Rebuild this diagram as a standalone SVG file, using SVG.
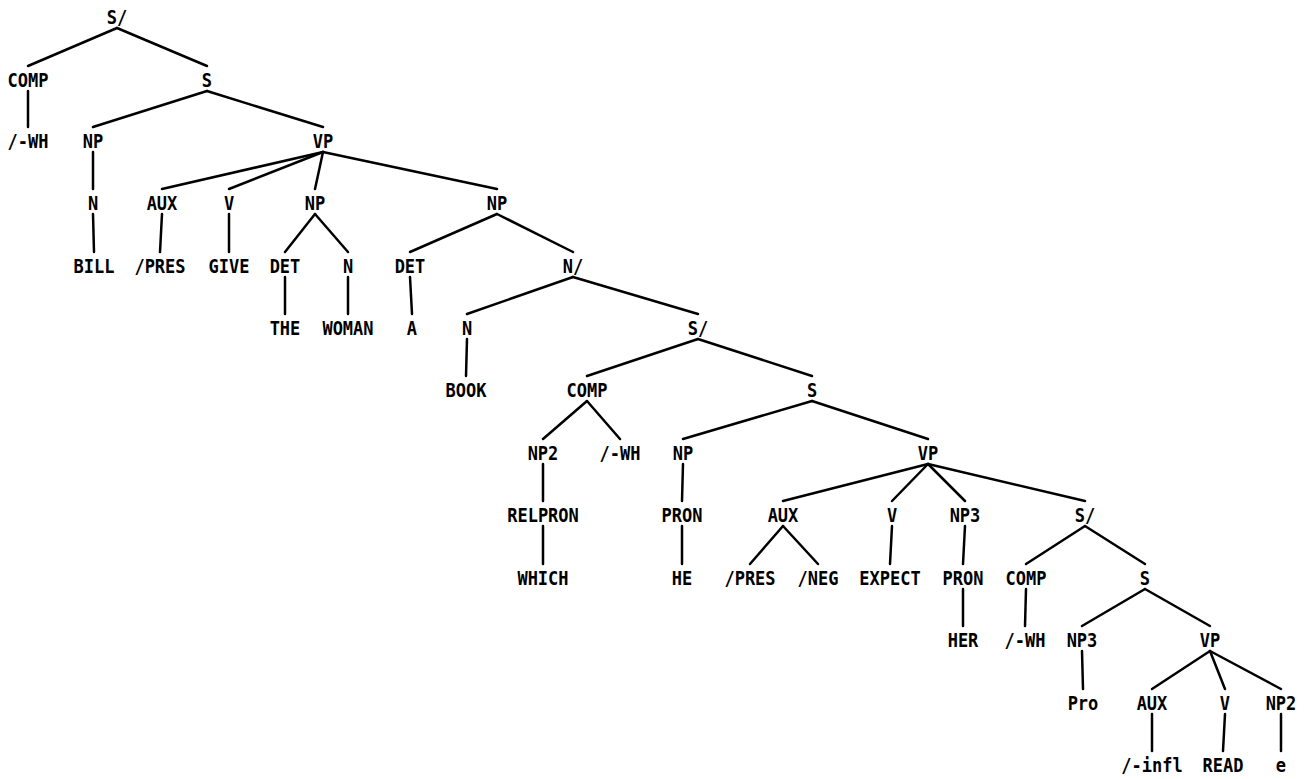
<svg xmlns="http://www.w3.org/2000/svg" width="1307" height="779" viewBox="0 0 1307 779">
<style>
text{font-family:"DejaVu Sans Mono","Liberation Mono",monospace;font-weight:bold;font-size:17px;text-anchor:middle;fill:#000;transform-box:fill-box;transform-origin:center;transform:scaleY(1.13)}
.e line{stroke:#000;stroke-width:2.5;stroke-linecap:round}
</style>
<rect width="1307" height="779" fill="#fff"/>
<g id="connectors" class="e">
<line x1="117" y1="28" x2="28" y2="66"/><line x1="117" y1="28" x2="207" y2="66"/>
<line x1="28" y1="91" x2="28" y2="127"/>
<line x1="207" y1="91" x2="93" y2="127"/><line x1="207" y1="91" x2="323" y2="127"/>
<line x1="93" y1="152" x2="93" y2="189"/>
<line x1="323" y1="152" x2="162" y2="189"/><line x1="323" y1="152" x2="229" y2="189"/><line x1="323" y1="152" x2="315" y2="189"/><line x1="323" y1="152" x2="497" y2="189"/>
<line x1="93" y1="214" x2="94" y2="252"/>
<line x1="162" y1="214" x2="160" y2="252"/>
<line x1="229" y1="214" x2="229" y2="252"/>
<line x1="315" y1="214" x2="285" y2="252"/><line x1="315" y1="214" x2="348" y2="252"/>
<line x1="497" y1="214" x2="410" y2="252"/><line x1="497" y1="214" x2="573" y2="252"/>
<line x1="285" y1="277" x2="285" y2="314"/><line x1="348" y1="277" x2="348" y2="314"/><line x1="410" y1="277" x2="412" y2="314"/>
<line x1="573" y1="277" x2="467" y2="314"/><line x1="573" y1="277" x2="698" y2="314"/>
<line x1="467" y1="339" x2="466" y2="376"/>
<line x1="698" y1="339" x2="587" y2="376"/><line x1="698" y1="339" x2="812" y2="376"/>
<line x1="587" y1="401" x2="543" y2="439"/><line x1="587" y1="401" x2="620" y2="439"/>
<line x1="812" y1="401" x2="683" y2="439"/><line x1="812" y1="401" x2="928" y2="439"/>
<line x1="543" y1="464" x2="543" y2="501"/><line x1="543" y1="526" x2="543" y2="564"/>
<line x1="683" y1="464" x2="682" y2="501"/><line x1="682" y1="526" x2="682" y2="564"/>
<line x1="928" y1="464" x2="783" y2="501"/><line x1="928" y1="464" x2="892" y2="501"/><line x1="928" y1="464" x2="965" y2="501"/><line x1="928" y1="464" x2="1085" y2="501"/>
<line x1="783" y1="526" x2="750" y2="564"/><line x1="783" y1="526" x2="818" y2="564"/>
<line x1="892" y1="526" x2="890" y2="564"/>
<line x1="965" y1="526" x2="963" y2="564"/><line x1="963" y1="589" x2="963" y2="626"/>
<line x1="1085" y1="526" x2="1026" y2="564"/><line x1="1085" y1="526" x2="1145" y2="564"/>
<line x1="1026" y1="589" x2="1025" y2="626"/>
<line x1="1145" y1="589" x2="1082" y2="626"/><line x1="1145" y1="589" x2="1210" y2="626"/>
<line x1="1082" y1="651" x2="1083" y2="689"/>
<line x1="1210" y1="651" x2="1152" y2="689"/><line x1="1210" y1="651" x2="1225" y2="689"/><line x1="1210" y1="651" x2="1281" y2="689"/>
<line x1="1152" y1="714" x2="1152" y2="751"/><line x1="1225" y1="714" x2="1223" y2="751"/><line x1="1281" y1="714" x2="1281" y2="751"/>
</g>
<g id="n_sbar1"><text x="117" y="23">S/</text></g>
<g id="n_comp1"><text x="28" y="86">COMP</text></g>
<g id="n_s1"><text x="207" y="86">S</text></g>
<g id="n_wh1"><text x="28" y="147">/-WH</text></g>
<g id="n_np1"><text x="93" y="147">NP</text></g>
<g id="n_vp1"><text x="323" y="147">VP</text></g>
<g id="n_n1"><text x="93" y="209">N</text></g>
<g id="n_aux1"><text x="162" y="209">AUX</text></g>
<g id="n_v1"><text x="229" y="209">V</text></g>
<g id="n_np2"><text x="315" y="209">NP</text></g>
<g id="n_np3"><text x="497" y="209">NP</text></g>
<g id="n_bill"><text x="94" y="272">BILL</text></g>
<g id="n_pres1"><text x="160" y="272">/PRES</text></g>
<g id="n_give"><text x="229" y="272">GIVE</text></g>
<g id="n_det1"><text x="285" y="272">DET</text></g>
<g id="n_n2"><text x="348" y="272">N</text></g>
<g id="n_det2"><text x="410" y="272">DET</text></g>
<g id="n_nbar"><text x="573" y="272">N/</text></g>
<g id="n_the"><text x="285" y="334">THE</text></g>
<g id="n_woman"><text x="348" y="334">WOMAN</text></g>
<g id="n_a"><text x="412" y="334">A</text></g>
<g id="n_n3"><text x="467" y="334">N</text></g>
<g id="n_sbar2"><text x="698" y="334">S/</text></g>
<g id="n_book"><text x="466" y="396">BOOK</text></g>
<g id="n_comp2"><text x="587" y="396">COMP</text></g>
<g id="n_s2"><text x="812" y="396">S</text></g>
<g id="n_np2b"><text x="543" y="459">NP2</text></g>
<g id="n_wh2"><text x="620" y="459">/-WH</text></g>
<g id="n_np4"><text x="683" y="459">NP</text></g>
<g id="n_vp2"><text x="928" y="459">VP</text></g>
<g id="n_relpron"><text x="543" y="521">RELPRON</text></g>
<g id="n_pron1"><text x="682" y="521">PRON</text></g>
<g id="n_aux2"><text x="783" y="521">AUX</text></g>
<g id="n_v2"><text x="892" y="521">V</text></g>
<g id="n_np3b"><text x="965" y="521">NP3</text></g>
<g id="n_sbar3"><text x="1085" y="521">S/</text></g>
<g id="n_which"><text x="543" y="584">WHICH</text></g>
<g id="n_he"><text x="682" y="584">HE</text></g>
<g id="n_pres2"><text x="750" y="584">/PRES</text></g>
<g id="n_neg"><text x="818" y="584">/NEG</text></g>
<g id="n_expect"><text x="890" y="584">EXPECT</text></g>
<g id="n_pron2"><text x="963" y="584">PRON</text></g>
<g id="n_comp3"><text x="1026" y="584">COMP</text></g>
<g id="n_s3"><text x="1145" y="584">S</text></g>
<g id="n_her"><text x="963" y="646">HER</text></g>
<g id="n_wh3"><text x="1025" y="646">/-WH</text></g>
<g id="n_np3c"><text x="1082" y="646">NP3</text></g>
<g id="n_vp3"><text x="1210" y="646">VP</text></g>
<g id="n_pro"><text x="1083" y="709">Pro</text></g>
<g id="n_aux3"><text x="1152" y="709">AUX</text></g>
<g id="n_v3"><text x="1225" y="709">V</text></g>
<g id="n_np2c"><text x="1281" y="709">NP2</text></g>
<g id="n_infl"><text x="1152" y="771">/-infl</text></g>
<g id="n_read"><text x="1223" y="771">READ</text></g>
<g id="n_e"><text x="1281" y="771">e</text></g>
</svg>
